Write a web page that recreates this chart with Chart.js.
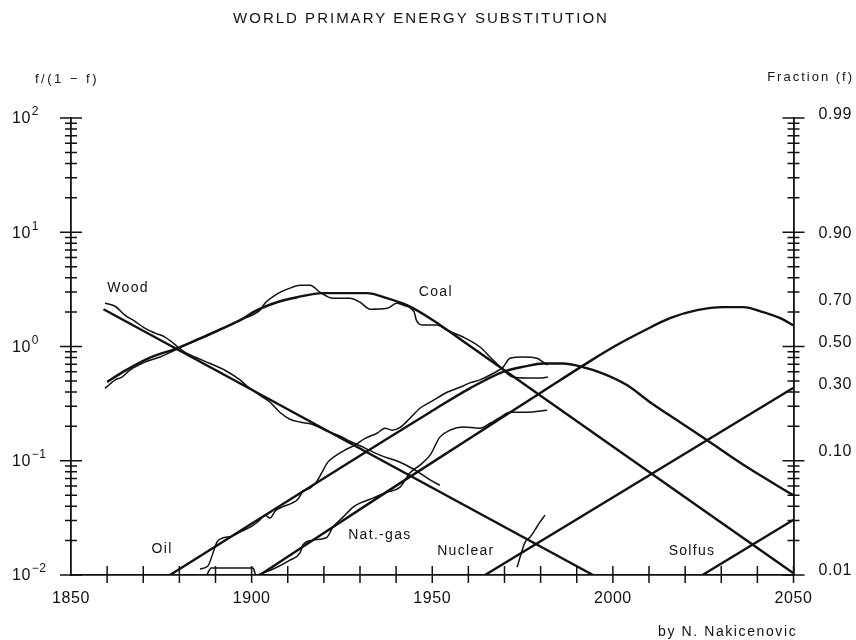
<!DOCTYPE html>
<html>
<head>
<meta charset="utf-8">
<title>World primary energy substitution</title>
<script src="https://cdn.jsdelivr.net/npm/chart.js@4.4.1/dist/chart.umd.min.js"></script>
<style>
  html, body { margin: 0; padding: 0; background: #fff; }
  #wrap { width: 856px; height: 640px; position: relative; }
</style>
</head>
<body>
<div id="wrap"><canvas id="chartSubst" role="img" aria-label="World primary energy substitution 1850-2050">World primary energy substitution</canvas></div>
<script>
/* ============================================================
   Market shares as f/(1-f) (year, value)
   ============================================================ */

// fitted logistic substitution curves
const woodFitYears  = [1859, 1994.5];
const woodFitValues = [2.12, 0.01];

const coalFitYears  = [1860.0, 1864.4, 1871.9, 1879.6, 1885.7, 1892.1, 1896.8, 1901.5, 1907.0, 1912.6, 1919.8, 1931.9, 1937.5, 1943.0, 1950.2, 1956.9, 1979.8, 2049.9];
const coalFitValues = [0.49, 0.60, 0.80, 0.97, 1.18, 1.45, 1.70, 2.08, 2.44, 2.70, 2.93, 2.93, 2.65, 2.30, 1.70, 1.21, 0.375, 0.0104];

const oilFitYears  = [1877.4, 1949.4, 1960.4, 1969.6, 1975.7, 1980.7, 1986.2, 1991.7, 1997.3, 2003.9, 2010.3, 2018.6, 2026.1, 2037.1, 2049.9];
const oilFitValues = [0.01, 0.266, 0.43, 0.60, 0.67, 0.71, 0.71, 0.66, 0.58, 0.46, 0.325, 0.217, 0.151, 0.088, 0.050];

const gasFitYears  = [1902.3, 1941.1, 1979.8, 1993.7, 2001.1, 2008.3, 2015.8, 2023.3, 2030.5, 2036.0, 2041.6, 2046.3, 2049.9];
const gasFitValues = [0.01, 0.0637, 0.39, 0.745, 1.03, 1.36, 1.77, 2.08, 2.21, 2.21, 2.00, 1.77, 1.54];

const nuclearFitYears  = [1964.6, 2049.9];
const nuclearFitValues = [0.01, 0.433];

const solfusFitYears  = [2024.8, 2049.9];
const solfusFitValues = [0.01, 0.0303];

// historical data
const woodYears  = [1859.4, 1862.2, 1864.9, 1867.7, 1870.4, 1873.3, 1876.0, 1878.0, 1879.6, 1881.6, 1884.3, 1888.5, 1892.6, 1896.8, 1898.7, 1902.3, 1905.1, 1907.8, 1910.6, 1913.4, 1916.7, 1920.3, 1924.5, 1927.2, 1931.4, 1935.5, 1941.1, 1945.2, 1949.4, 1952.1];
const woodValues = [2.39, 2.25, 1.88, 1.66, 1.45, 1.31, 1.21, 1.09, 0.99, 0.89, 0.81, 0.71, 0.62, 0.51, 0.45, 0.374, 0.325, 0.266, 0.231, 0.218, 0.209, 0.185, 0.164, 0.148, 0.129, 0.112, 0.097, 0.083, 0.068, 0.061];

const coalYears  = [1859.4, 1860.8, 1862.2, 1864.1, 1866.3, 1870.5, 1874.6, 1878.8, 1881.6, 1885.7, 1889.9, 1894.0, 1898.2, 1902.3, 1903.7, 1907.0, 1910.6, 1913.4, 1916.2, 1918.9, 1922.5, 1927.2, 1930.0, 1932.8, 1937.5, 1940.2, 1941.9, 1945.0, 1945.6, 1947.4, 1951.3, 1954.0, 1958.5, 1963.2, 1966.0, 1968.8, 1970.7, 1972.3, 1976.2, 1979.8, 1982.0];
const coalValues = [0.43, 0.47, 0.51, 0.54, 0.62, 0.73, 0.81, 0.93, 1.03, 1.16, 1.33, 1.54, 1.77, 2.08, 2.39, 2.87, 3.24, 3.44, 3.44, 2.99, 2.65, 2.65, 2.44, 2.12, 2.16, 2.39, 2.30, 2.00, 1.70, 1.54, 1.54, 1.39, 1.21, 0.99, 0.81, 0.66, 0.58, 0.54, 0.53, 0.53, 0.54];

const oilYears  = [1885.7, 1887.9, 1889.3, 1890.4, 1891.8, 1894.6, 1897.3, 1900.1, 1902.3, 1903.7, 1905.1, 1906.5, 1908.4, 1911.2, 1912.8, 1914.2, 1916.2, 1918.1, 1919.5, 1921.1, 1923.1, 1925.8, 1928.6, 1931.4, 1934.7, 1936.9, 1938.9, 1941.1, 1943.8, 1946.6, 1949.9, 1954.1, 1957.7, 1960.4, 1963.2, 1966.8, 1969.6, 1971.5, 1975.1, 1979.0, 1980.7, 1982.0];
const oilValues = [0.0113, 0.0120, 0.0156, 0.0194, 0.0210, 0.0219, 0.0242, 0.0268, 0.0303, 0.0334, 0.0315, 0.0362, 0.0393, 0.0426, 0.0461, 0.0542, 0.0576, 0.0663, 0.0794, 0.0972, 0.110, 0.124, 0.137, 0.157, 0.174, 0.193, 0.185, 0.196, 0.235, 0.288, 0.332, 0.398, 0.44, 0.48, 0.51, 0.58, 0.66, 0.79, 0.81, 0.79, 0.73, 0.69];

const gasYears  = [1887.6, 1888.8, 1900.4, 1901.2, 1903.1, 1907.0, 1910.6, 1913.4, 1914.2, 1917.0, 1920.9, 1922.5, 1925.3, 1928.1, 1930.0, 1933.6, 1937.5, 1941.1, 1943.8, 1946.6, 1949.4, 1952.1, 1954.9, 1958.5, 1963.2, 1966.0, 1968.8, 1971.5, 1976.2, 1981.8];
const gasValues = [0.01, 0.0115, 0.0115, 0.01, 0.0104, 0.0117, 0.0135, 0.0156, 0.0183, 0.0202, 0.0215, 0.0263, 0.0321, 0.0393, 0.0426, 0.0471, 0.0531, 0.0588, 0.0780, 0.0916, 0.112, 0.161, 0.185, 0.197, 0.193, 0.213, 0.240, 0.266, 0.266, 0.277];

const nuclearYears  = [1973.5, 1974.3, 1975.7, 1977.1, 1978.4, 1979.8, 1981.2];
const nuclearValues = [0.0117, 0.0143, 0.0194, 0.0215, 0.0247, 0.029, 0.0334];

// axes
const yearLabels      = [1850, 1900, 1950, 2000, 2050];
const decadeValues    = [0.01, 0.1, 1, 10, 100];
const decadeExponents = ['−2', '−1', '0', '1', '2'];
const fracValues      = [0.99, 0.90, 0.70, 0.50, 0.30, 0.10, 0.01];
const fracLabels      = ['0.99', '0.90', '0.70', '0.50', '0.30', '0.10', '0.01'];

// curve names, placed at (year, value)
const seriesNames  = ['Wood', 'Coal', 'Oil', 'Nat.-gas', 'Nuclear', 'Solfus'];
const seriesAtYear = [1865.8, 1951.0, 1875.2, 1935.5, 1959.3, 2021.9];
const seriesAtVal  = [3.24, 2.99, 0.0169, 0.0223, 0.0162, 0.0162];

const INK  = '#111111';
const FONT = "'Liberation Sans', Arial, Helvetica, sans-serif";

function pts(xs, ys) { return xs.map((x, i) => ({ x, y: ys[i] })); }

function yearTicks() {
  const out = [];
  for (let y = 1850; y <= 2050; y += 10) out.push(y);
  return out;
}

function logTicks() {
  const out = [];
  decadeValues.forEach((d, i) => {
    out.push(d);
    if (i < decadeValues.length - 1) {
      for (let m = 2; m <= 9; m++) out.push(+(m * d).toPrecision(3));
    }
  });
  return out;
}

function isDecade(v) { return decadeValues.findIndex(d => Math.abs(d - v) < d * 1e-6); }

const fitStyle  = { borderColor: INK, borderWidth: 2.4, pointRadius: 0, fill: false, cubicInterpolationMode: 'monotone' };
const histStyle = { borderColor: INK, borderWidth: 1.5, pointRadius: 0, fill: false, cubicInterpolationMode: 'monotone' };

// ticks crossing the axis lines, as on the original drawing
const crossTicks = {
  id: 'crossTicks',
  beforeDraw(chart) { chart.ctx.letterSpacing = '0.6px'; },
  afterDraw(chart) {
    const { ctx, chartArea: a, scales: { x, y } } = chart;
    ctx.save();
    ctx.strokeStyle = INK;
    ctx.lineWidth = 1.5;
    ctx.beginPath();
    y.ticks.forEach(t => {
      const py = y.getPixelForValue(t.value);
      const len = isDecade(t.value) >= 0 ? 11 : 6;
      [a.left, a.right].forEach(ax => { ctx.moveTo(ax - len, py); ctx.lineTo(ax + len, py); });
    });
    x.ticks.forEach(t => {
      if (t.value === x.min) return;
      const px = x.getPixelForValue(t.value);
      ctx.moveTo(px, a.bottom - 9);
      ctx.lineTo(px, a.bottom + 8);
    });
    ctx.stroke();
    ctx.restore();
  }
};

const captions = {
  id: 'captions',
  afterDraw(chart) {
    const { ctx, scales: { x, y } } = chart;
    ctx.save();
    ctx.fillStyle = INK;
    ctx.textBaseline = 'middle';

    ctx.letterSpacing = '2px';
    ctx.font = '15px ' + FONT;
    ctx.textAlign = 'center';
    ctx.fillText('WORLD PRIMARY ENERGY SUBSTITUTION', 421, 19);

    ctx.font = '13px ' + FONT;
    ctx.textAlign = 'left';
    ctx.letterSpacing = '2.5px';
    ctx.fillText('f/(1 − f)', 35, 79);
    ctx.letterSpacing = '2px';
    ctx.textAlign = 'right';
    ctx.fillText('Fraction (f)', 854, 77);

    // left axis: 10 with a raised exponent
    ctx.textAlign = 'left';
    ctx.letterSpacing = '0.5px';
    decadeValues.forEach((v, i) => {
      const py = y.getPixelForValue(v);
      ctx.font = '16px ' + FONT;
      ctx.fillText('10', 12, py + 1);
      const w = ctx.measureText('10').width;
      ctx.font = '12px ' + FONT;
      ctx.fillText(decadeExponents[i], 12 + w + 1, py - 6);
    });

    ctx.font = '14px ' + FONT;
    ctx.letterSpacing = '1.3px';
    ctx.textAlign = 'center';
    seriesNames.forEach((n, i) => {
      ctx.fillText(n, x.getPixelForValue(seriesAtYear[i]), y.getPixelForValue(seriesAtVal[i]));
    });

    ctx.font = '14px ' + FONT;
    ctx.letterSpacing = '1.6px';
    ctx.textAlign = 'left';
    ctx.fillText('by N. Nakicenovic', 658, 632);
    ctx.restore();
  }
};

Chart.defaults.font.family = FONT;
Chart.defaults.font.size = 16;
Chart.defaults.color = INK;

new Chart(document.getElementById('chartSubst'), {
  type: 'line',
  data: {
    datasets: [
      { label: 'Wood (fit)',    data: pts(woodFitYears, woodFitValues), ...fitStyle },
      { label: 'Coal (fit)',    data: pts(coalFitYears, coalFitValues), ...fitStyle },
      { label: 'Oil (fit)',     data: pts(oilFitYears, oilFitValues), ...fitStyle },
      { label: 'Nat.-gas (fit)', data: pts(gasFitYears, gasFitValues), ...fitStyle },
      { label: 'Nuclear (fit)', data: pts(nuclearFitYears, nuclearFitValues), ...fitStyle },
      { label: 'Solfus (fit)',  data: pts(solfusFitYears, solfusFitValues), ...fitStyle },
      { label: 'Wood',    data: pts(woodYears, woodValues), ...histStyle },
      { label: 'Coal',    data: pts(coalYears, coalValues), ...histStyle },
      { label: 'Oil',     data: pts(oilYears, oilValues), ...histStyle },
      { label: 'Nat.-gas', data: pts(gasYears, gasValues), ...histStyle },
      { label: 'Nuclear', data: pts(nuclearYears, nuclearValues), ...histStyle }
    ]
  },
  options: {
    responsive: true, maintainAspectRatio: false,
    animation: false, events: [],
    layout: { padding: { top: 118, left: 12, right: 0, bottom: 0 } },
    plugins: { legend: { display: false }, tooltip: { enabled: false }, title: { display: false } },
    scales: {
      x: {
        type: 'linear', min: 1850, max: 2050,
        afterBuildTicks: s => { s.ticks = yearTicks().map(v => ({ value: v })); },
        afterFit: s => { s.height = 65; },
        grid: { drawOnChartArea: false, drawTicks: false },
        border: { display: true, color: INK, width: 1.8 },
        ticks: { autoSkip: false, maxRotation: 0, padding: 14, callback: v => yearLabels.includes(v) ? String(v) : '' }
      },
      y: {
        type: 'logarithmic', position: 'left', min: 0.01, max: 100,
        afterBuildTicks: s => { s.ticks = logTicks().map(v => ({ value: v })); },
        afterFit: s => { s.width = 59; },
        grid: { drawOnChartArea: false, drawTicks: false },
        border: { display: true, color: INK, width: 1.8 },
        ticks: { autoSkip: false, display: false }
      },
      y2: {
        type: 'logarithmic', position: 'right', min: 0.01, max: 100,
        afterBuildTicks: s => { s.ticks = fracValues.map(f => ({ value: f / (1 - f) })); },
        afterFit: s => { s.width = 62.5; },
        grid: { drawOnChartArea: false, drawTicks: false },
        border: { display: true, color: INK, width: 1.8 },
        ticks: { autoSkip: false, padding: 25, labelOffset: -4, callback: (v, i) => fracLabels[i] }
      }
    }
  },
  plugins: [crossTicks, captions]
});
</script>
</body>
</html>
